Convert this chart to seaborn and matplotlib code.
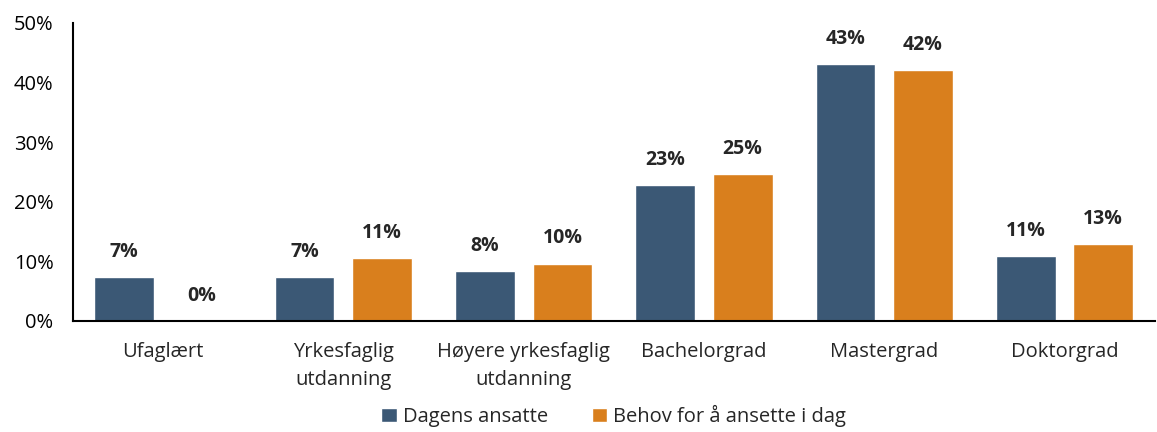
import numpy as np
import pandas as pd
import seaborn as sns
import matplotlib.pyplot as plt
from matplotlib.ticker import PercentFormatter

categories = ["Ufaglært", "Yrkesfaglig\nutdanning", "Høyere yrkesfaglig\nutdanning",
              "Bachelorgrad", "Mastergrad", "Doktorgrad"]
series = ["Dagens ansatte", "Behov for å ansette i dag"]
dagens = [7.4, 7.4, 8.3, 22.8, 43.1, 10.9]
behov = [0.0, 10.6, 9.6, 24.6, 42.1, 12.9]
colors = ["#3B5875", "#D97F1D"]

df = pd.DataFrame({
    "kategori": categories * 2,
    "serie": [series[0]] * len(categories) + [series[1]] * len(categories),
    "andel": dagens + behov,
})

sns.set_theme(style="white")
plt.rcParams["font.family"] = ["Open Sans", "DejaVu Sans"]

fig, ax = plt.subplots(figsize=(11.57, 4.32), dpi=100)
sns.barplot(data=df, x="kategori", y="andel", hue="serie", palette=colors,
            width=0.86, gap=0.23, ax=ax, saturation=1, errorbar=None)

for cont in ax.containers:
    labels = [f"{round(b.get_height()):.0f}%" for b in cont]
    ax.bar_label(cont, labels=labels, padding=11, fontsize=14, fontweight="bold")

ax.set_ylim(0, 50)
ax.set_xlim(-0.5, 5.5)
ax.set_yticks(np.arange(0, 51, 10))
ax.yaxis.set_major_formatter(PercentFormatter(decimals=0))
ax.set_xlabel("")
ax.set_ylabel("")
ax.tick_params(axis="y", direction="in", length=8, width=1.5, labelsize=14.5, colors="black", pad=14)
ax.tick_params(axis="x", length=0, labelsize=14.5, pad=15)
for lbl in ax.get_xticklabels():
    lbl.set_linespacing(1.55)
    lbl.set_verticalalignment("top")
for s in ["top", "right"]:
    ax.spines[s].set_visible(False)
for s in ["left", "bottom"]:
    ax.spines[s].set_color("black")
    ax.spines[s].set_linewidth(1.5)

ax.legend(loc="upper center", bbox_to_anchor=(0.5, -0.275), ncol=2, frameon=False,
          fontsize=14.5, handlelength=0.75, handleheight=0.75, handletextpad=0.3,
          columnspacing=2.2, borderaxespad=0.0, borderpad=0.1)

fig.subplots_adjust(left=0.063, right=0.998, top=0.947, bottom=0.257)
fig.savefig("out.png", dpi=100)
